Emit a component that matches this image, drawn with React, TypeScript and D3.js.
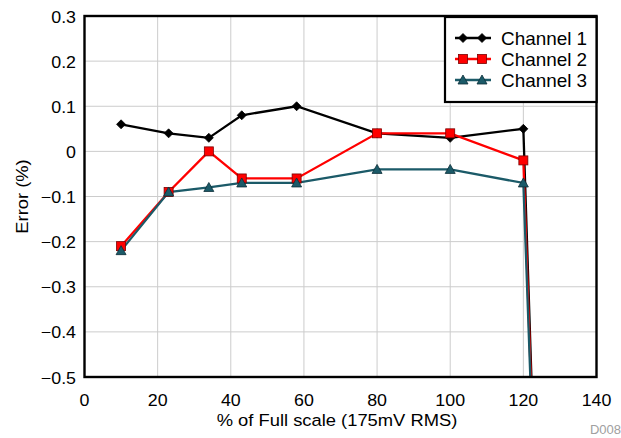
import React from "react";
import * as d3 from "d3";

const xValues = [10, 23, 34, 43, 58, 80, 100, 120, 125];
const channel1 = [0.06, 0.04, 0.03, 0.08, 0.1, 0.04, 0.03, 0.05, -1.2];
const channel2 = [-0.21, -0.09, 0.0, -0.06, -0.06, 0.04, 0.04, -0.02, -1.2];
const channel3 = [-0.22, -0.09, -0.08, -0.07, -0.07, -0.04, -0.04, -0.07, -1.2];
const seriesNames = ["Channel 1", "Channel 2", "Channel 3"];
const xTicks = [0, 20, 40, 60, 80, 100, 120, 140];
const yTicks = [0.3, 0.2, 0.1, 0, -0.1, -0.2, -0.3, -0.4, -0.5];

const W = 621;
const H = 438;
const L = 84.5;
const R = 596.5;
const T = 16;
const B = 377;

const font = "'Liberation Sans', Arial, sans-serif";

const colors = ["#000000", "#ff0000", "#1b5a68"];
const strokes = ["#000000", "#7a0000", "#0d2f38"];
const shapes = ["diamond", "square", "triangle"];

function Marker({ shape, x, y, fill, stroke }: any) {
  if (shape === "diamond") {
    const s = 4.5;
    return <path d={`M${x},${y - s}L${x + s},${y}L${x},${y + s}L${x - s},${y}Z`} fill={fill} stroke={stroke} strokeWidth={0.8} />;
  }
  if (shape === "square") {
    const s = 4.5;
    return <rect x={x - s} y={y - s} width={2 * s} height={2 * s} fill={fill} stroke={stroke} strokeWidth={0.8} />;
  }
  const s = 5;
  return <path d={`M${x},${y - s}L${x + s},${y + s * 0.8}L${x - s},${y + s * 0.8}Z`} fill={fill} stroke={stroke} strokeWidth={0.8} />;
}

function SText({ x, y, anchor, size, children, fill = "#000" }: any) {
  return (
    <g transform={`translate(${x},${y}) scale(1.08,1)`}>
      <text x={0} y={0} textAnchor={anchor} fontSize={size} fill={fill}>
        {children}
      </text>
    </g>
  );
}

export default function App() {
  const x = d3.scaleLinear().domain([0, 140]).range([L, R]);
  const y = d3.scaleLinear().domain([-0.5, 0.3]).range([B, T]);
  const data = [channel1, channel2, channel3];
  const line = d3
    .line<number>()
    .x((_, i) => x(xValues[i]))
    .y((d) => y(d));

  return (
    <svg width={W} height={H} style={{ position: "absolute", left: 0, top: 0, background: "#fff" }} fontFamily={font}>
      <defs>
        <clipPath id="plot">
          <rect x={L} y={T} width={R - L} height={B - T} />
        </clipPath>
      </defs>
      <rect width={W} height={H} fill="#fff" />
      {xTicks.map((t) => (
        <line key={"gx" + t} x1={x(t)} x2={x(t)} y1={T} y2={B} stroke="#cccccc" strokeWidth={1} />
      ))}
      {yTicks.map((t) => (
        <line key={"gy" + t} x1={L} x2={R} y1={y(t)} y2={y(t)} stroke="#cccccc" strokeWidth={1} />
      ))}
      <g clipPath="url(#plot)">
        {data.map((d, si) => (
          <path key={"l" + si} d={line(d) || ""} fill="none" stroke={colors[si]} strokeWidth={2.3} />
        ))}
        {data.map((d, si) =>
          d.map((v, i) =>
            v >= -0.5 ? (
              <Marker key={`m${si}-${i}`} shape={shapes[si]} x={x(xValues[i])} y={y(v)} fill={colors[si]} stroke={strokes[si]} />
            ) : null
          )
        )}
      </g>
      <rect x={L} y={T} width={R - L} height={B - T} fill="none" stroke="#000" strokeWidth={2.4} />
      {xTicks.map((t) => (
        <SText key={"xt" + t} x={x(t)} y={406} anchor="middle" size={16.5}>
          {t}
        </SText>
      ))}
      {yTicks.map((t) => (
        <SText key={"yt" + t} x={76} y={y(t) + 6.5} anchor="end" size={16.5}>
          {t === 0 ? "0" : d3.format(".1f")(t)}
        </SText>
      ))}
      <SText x={337} y={425.5} anchor="middle" size={17}>
        % of Full scale (175mV RMS)
      </SText>
      <g transform={`translate(28,${(T + B) / 2}) rotate(-90) scale(1.08,1)`}>
        <text x={0} y={0} textAnchor="middle" fontSize={17} fill="#000">
          Error (%)
        </text>
      </g>
      <text x={621} y={434} textAnchor="end" fontSize={13} fill="#a0a0a0">
        D008
      </text>
      <g>
        <rect x={445} y={17} width={151.5} height={85} fill="#fff" stroke="#000" strokeWidth={2.2} />
        {seriesNames.map((n, si) => {
          const ly = 38 + si * 21;
          return (
            <g key={"lg" + si}>
              <line x1={455} x2={491} y1={ly} y2={ly} stroke={colors[si]} strokeWidth={2.3} />
              <Marker shape={shapes[si]} x={463} y={ly} fill={colors[si]} stroke={strokes[si]} />
              <Marker shape={shapes[si]} x={482} y={ly} fill={colors[si]} stroke={strokes[si]} />
              <SText x={501} y={ly + 6.5} anchor="start" size={17.5}>
                {n}
              </SText>
            </g>
          );
        })}
      </g>
    </svg>
  );
}
